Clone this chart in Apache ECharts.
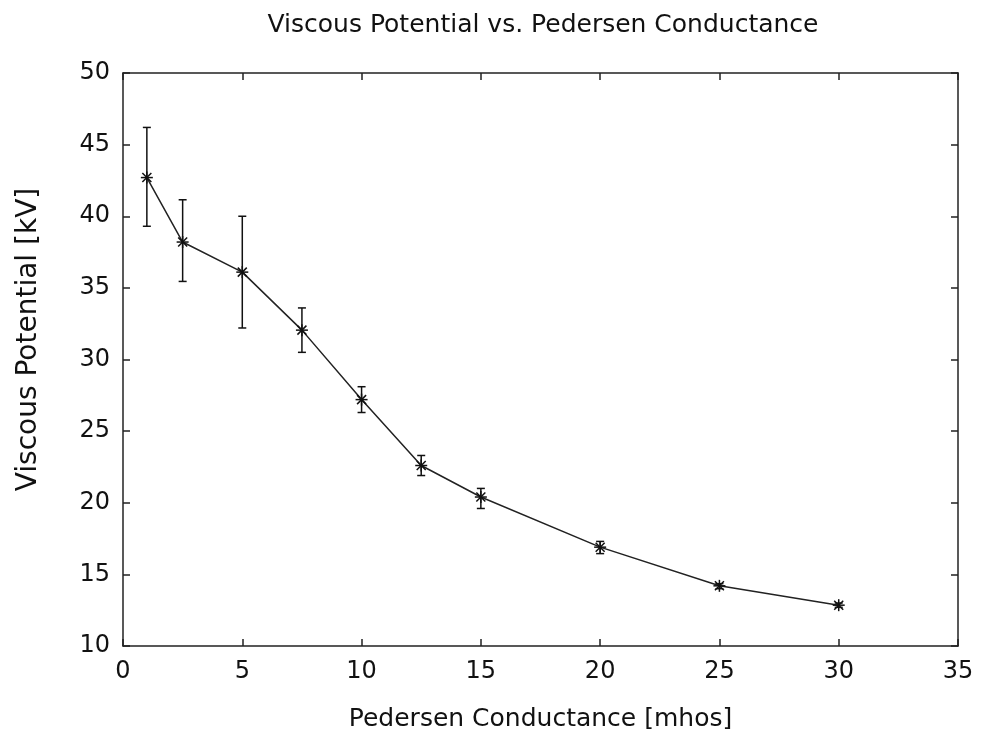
<!DOCTYPE html>
<html>
<head>
<meta charset="utf-8">
<script src="https://cdn.jsdelivr.net/npm/echarts@6/dist/echarts.min.js"></script>
<style>html,body{margin:0;padding:0;background:#fff}#c{width:982px;height:739px}</style>
</head>
<body>
<div id="c"></div>
<script>
var conductance = [1, 2.5, 5, 7.5, 10, 12.5, 15, 20, 25, 30];
var potential   = [42.7, 38.2, 36.1, 32.05, 27.2, 22.6, 20.4, 16.9, 14.2, 12.85];
var errLow      = [39.3, 35.45, 32.2, 30.5, 26.3, 21.9, 19.6, 16.45, 14.0, 12.7];
var errHigh     = [46.2, 41.15, 40.0, 33.6, 28.1, 23.3, 21.0, 17.3, 14.35, 13.0];
var xTicks = [0, 5, 10, 15, 20, 25, 30, 35];
var yTicks = [10, 15, 20, 25, 30, 35, 40, 45, 50];

var FONT = 'DejaVu Sans';
var chart = echarts.init(document.getElementById('c'));
var lineData = conductance.map(function (x, i) { return [x, potential[i]]; });
var errData = conductance.map(function (x, i) { return [x, potential[i], errLow[i], errHigh[i]]; });

function baseAxis(extra) {
  return Object.assign({
    type: 'value',
    axisLine: { show: true, onZero: false, lineStyle: { color: '#222', width: 1.5 } },
    axisTick: { show: true, inside: true, length: 7, lineStyle: { color: '#222', width: 1.5 } },
    splitLine: { show: false }
  }, extra);
}

chart.setOption({
  backgroundColor: '#fff',
  animation: false,
  title: {
    text: 'Viscous Potential vs. Pedersen Conductance',
    left: 538, top: 8, textAlign: 'center',
    textStyle: { fontFamily: FONT, fontSize: 25, fontWeight: 'normal', color: '#111' }
  },
  grid: { left: 123, right: 24, top: 73, bottom: 93, containLabel: false },
  xAxis: [
    baseAxis({
      min: xTicks[0], max: xTicks[xTicks.length - 1], interval: 5, position: 'bottom',
      name: 'Pedersen Conductance [mhos]', nameLocation: 'middle', nameGap: 61,
      nameTextStyle: { fontFamily: FONT, fontSize: 25, color: '#111' },
      axisLabel: { margin: 14, fontFamily: FONT, fontSize: 24, color: '#111' }
    }),
    baseAxis({
      min: xTicks[0], max: xTicks[xTicks.length - 1], interval: 5, position: 'top',
      axisLabel: { show: false }
    })
  ],
  yAxis: [
    baseAxis({
      min: yTicks[0], max: yTicks[yTicks.length - 1], interval: 5, position: 'left',
      name: 'Viscous Potential [kV]', nameLocation: 'middle', nameGap: 80,
      nameTextStyle: { fontFamily: FONT, fontSize: 28, color: '#111', padding: [0, 0, 0, 40] },
      axisLabel: { margin: 13, fontFamily: FONT, fontSize: 24, color: '#111' }
    }),
    baseAxis({
      min: yTicks[0], max: yTicks[yTicks.length - 1], interval: 5, position: 'right',
      axisLabel: { show: false }
    })
  ],
  series: [
    {
      type: 'line', data: lineData, symbol: 'none',
      lineStyle: { color: '#222', width: 1.5 }, z: 2
    },
    {
      type: 'custom', data: errData, z: 3,
      renderItem: function (params, api) {
        var x = api.value(0);
        var c = api.coord([x, api.value(1)]);
        var lo = api.coord([x, api.value(2)]);
        var hi = api.coord([x, api.value(3)]);
        var cap = 4, s = 6;
        var st = { stroke: '#111', lineWidth: 1.5 };
        var d = s * 0.75;
        return {
          type: 'group',
          children: [
            { type: 'line', shape: { x1: lo[0], y1: lo[1], x2: hi[0], y2: hi[1] }, style: st },
            { type: 'line', shape: { x1: lo[0] - cap, y1: lo[1], x2: lo[0] + cap, y2: lo[1] }, style: st },
            { type: 'line', shape: { x1: hi[0] - cap, y1: hi[1], x2: hi[0] + cap, y2: hi[1] }, style: st },
            { type: 'line', shape: { x1: c[0] - s, y1: c[1], x2: c[0] + s, y2: c[1] }, style: st },
            { type: 'line', shape: { x1: c[0], y1: c[1] - s, x2: c[0], y2: c[1] + s }, style: st },
            { type: 'line', shape: { x1: c[0] - d, y1: c[1] - d, x2: c[0] + d, y2: c[1] + d }, style: st },
            { type: 'line', shape: { x1: c[0] - d, y1: c[1] + d, x2: c[0] + d, y2: c[1] - d }, style: st }
          ]
        };
      }
    }
  ]
});
</script>
</body>
</html>
